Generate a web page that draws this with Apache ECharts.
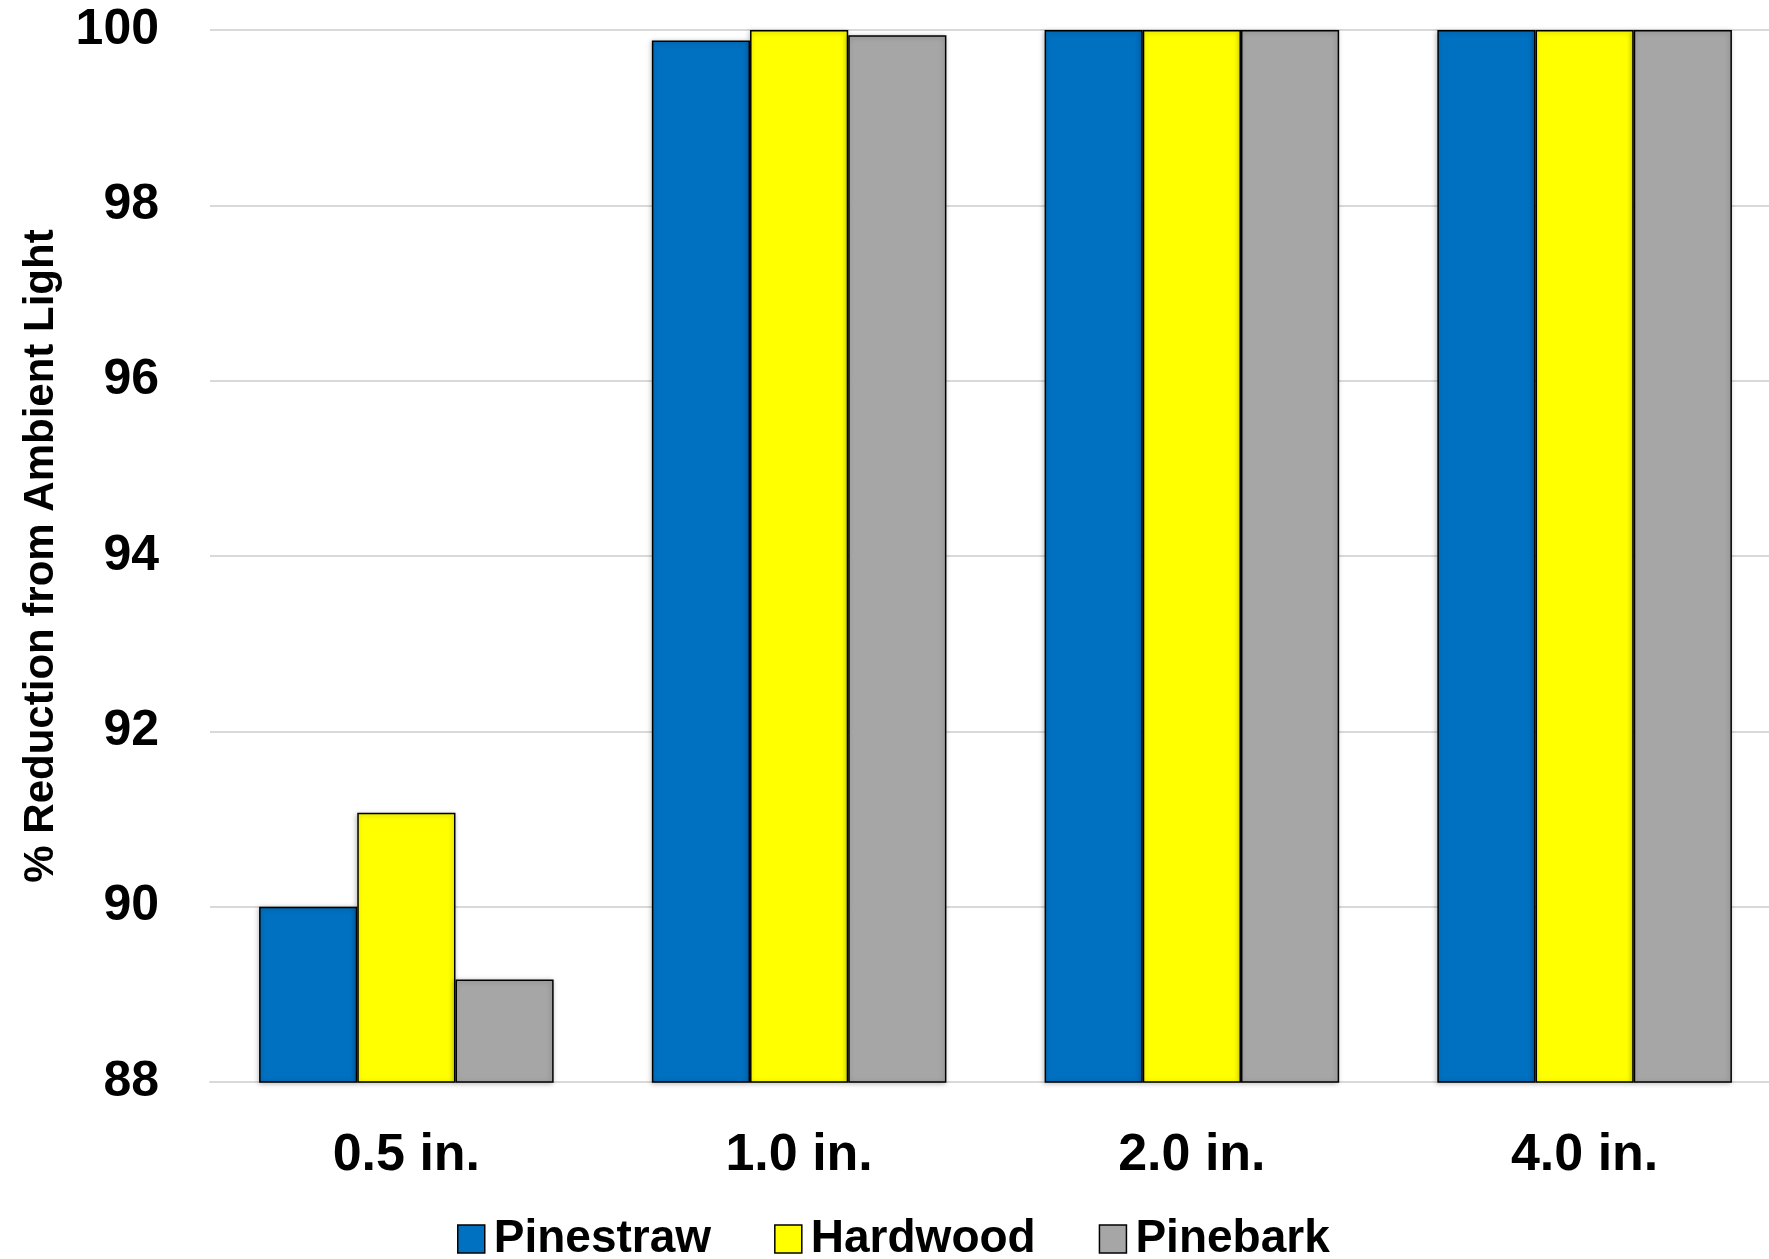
<!DOCTYPE html>
<html>
<head>
<meta charset="utf-8">
<script src="https://cdn.jsdelivr.net/npm/echarts@6/dist/echarts.min.js"></script>
<style>
html,body{margin:0;padding:0;background:#fff;}
#chart{width:1769px;height:1259px;}
</style>
</head>
<body>
<div id="chart"></div>
<script>
var categories = ['0.5 in.', '1.0 in.', '2.0 in.', '4.0 in.'];
var pinestraw = [90.0, 99.88, 100, 100];
var hardwood = [91.07, 100, 100, 100];
var pinebark = [89.17, 99.94, 100, 100];
var seriesNames = ['Pinestraw', 'Hardwood', 'Pinebark'];
var seriesColors = ['#0070C0', '#FFFF00', '#A6A6A6'];
var yTicks = [88, 90, 92, 94, 96, 98, 100];

var FONT = '"Liberation Sans", Arial, sans-serif';
var chart = echarts.init(document.getElementById('chart'));

function mk(name, data, color) {
  return {
    name: name,
    type: 'bar',
    data: data,
    barGap: '0%',
    barCategoryGap: '25%',
    itemStyle: {
      color: color,
      borderColor: '#000',
      borderWidth: 1.5,
      shadowColor: 'rgba(0,0,0,0.25)',
      shadowBlur: 5,
      shadowOffsetX: -1,
      shadowOffsetY: 1
    }
  };
}

chart.setOption({
  animation: false,
  backgroundColor: '#fff',
  grid: { left: 210, right: -12, top: 30, bottom: 177, containLabel: false, outerBoundsMode: 'none' },
  legend: {
    left: 452,
    top: 1211,
    itemWidth: 27,
    itemHeight: 28,
    itemGap: 63,
    icon: 'rect',
    textStyle: { fontFamily: FONT, fontWeight: 'bold', fontSize: 46, color: '#000', padding: [0,0,0,4] },
    data: seriesNames.map(function (n, i) {
      return { name: n, itemStyle: { color: seriesColors[i], borderColor: '#000', borderWidth: 1.5 } };
    })
  },
  xAxis: {
    type: 'category',
    data: categories,
    axisTick: { show: false },
    axisLine: { show: true, lineStyle: { color: '#d9d9d9', width: 2 } },
    axisLabel: { fontFamily: FONT, fontWeight: 'bold', fontSize: 52, color: '#000', margin: 48 }
  },
  yAxis: {
    type: 'value',
    min: yTicks[0],
    max: yTicks[yTicks.length - 1],
    interval: 2,
    name: '% Reduction from Ambient Light',
    nameLocation: 'middle',
    nameRotate: 90,
    nameGap: 148,
    nameTextStyle: { fontFamily: FONT, fontWeight: 'bold', fontSize: 42, color: '#000' },
    axisLine: { show: false },
    axisTick: { show: false },
    axisLabel: { fontFamily: FONT, fontWeight: 'bold', fontSize: 50, color: '#000', margin: 51 },
    splitLine: { show: true, lineStyle: { color: '#d9d9d9', width: 2 } }
  },
  series: [
    mk(seriesNames[0], pinestraw, seriesColors[0]),
    mk(seriesNames[1], hardwood, seriesColors[1]),
    mk(seriesNames[2], pinebark, seriesColors[2])
  ]
});
</script>
</body>
</html>
